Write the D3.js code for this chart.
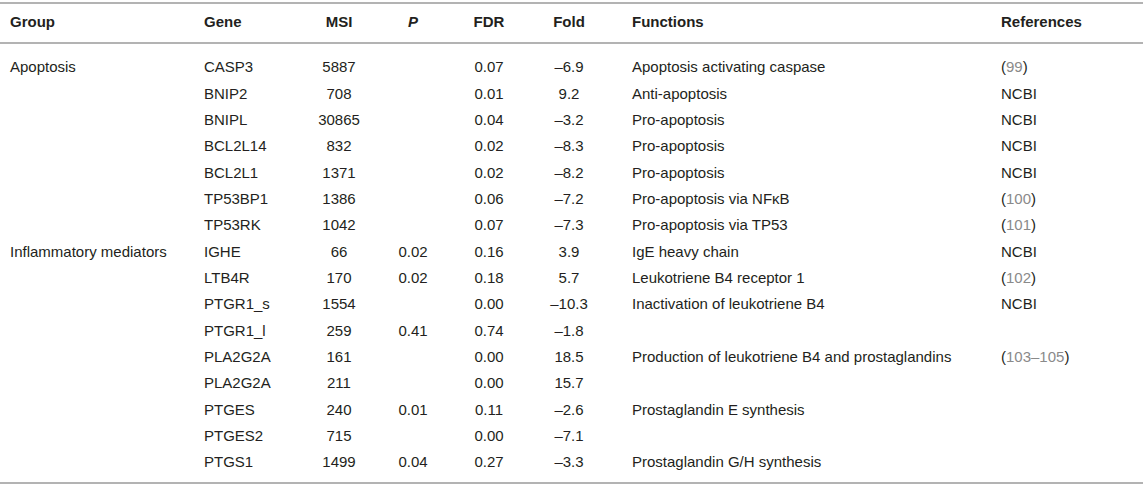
<html lang="en">
<head>
  <meta charset="utf-8" />
  <script src="https://d3js.org/d3.v7.min.js"></script>
  <style>
    body { margin: 0; background: #fff; }
    text { font-family: "Liberation Sans", Arial, sans-serif; font-size: 15px; fill: #231f20; }
    .hdr { font-weight: bold; fill: #231f20; }
  </style>
</head>
<body>
<script>
  // table data, one array per column
  var groups = ["Apoptosis", "", "", "", "", "", "", "Inflammatory mediators", "", "", "", "", "", "", "", ""];
  var genes = ["CASP3", "BNIP2", "BNIPL", "BCL2L14", "BCL2L1", "TP53BP1", "TP53RK", "IGHE", "LTB4R",
               "PTGR1_s", "PTGR1_l", "PLA2G2A", "PLA2G2A", "PTGES", "PTGES2", "PTGS1"];
  var msi = ["5887", "708", "30865", "832", "1371", "1386", "1042", "66", "170", "1554", "259", "161", "211", "240", "715", "1499"];
  var pVals = ["", "", "", "", "", "", "", "0.02", "0.02", "", "0.41", "", "", "0.01", "", "0.04"];
  var fdr = ["0.07", "0.01", "0.04", "0.02", "0.02", "0.06", "0.07", "0.16", "0.18", "0.00", "0.74", "0.00", "0.00", "0.11", "0.00", "0.27"];
  var fold = ["–6.9", "9.2", "–3.2", "–8.3", "–8.2", "–7.2", "–7.3", "3.9", "5.7", "–10.3", "–1.8", "18.5", "15.7", "–2.6", "–7.1", "–3.3"];
  var functions = ["Apoptosis activating caspase", "Anti-apoptosis", "Pro-apoptosis", "Pro-apoptosis", "Pro-apoptosis",
                   "Pro-apoptosis via NFκB", "Pro-apoptosis via TP53", "IgE heavy chain", "Leukotriene B4 receptor 1",
                   "Inactivation of leukotriene B4", "", "Production of leukotriene B4 and prostaglandins", "",
                   "Prostaglandin E synthesis", "", "Prostaglandin G/H synthesis"];
  // references: [prefix, gray number, suffix]
  var refs = [["(", "99", ")"], ["NCBI", "", ""], ["NCBI", "", ""], ["NCBI", "", ""], ["NCBI", "", ""],
              ["(", "100", ")"], ["(", "101", ")"], ["NCBI", "", ""], ["(", "102", ")"], ["NCBI", "", ""],
              ["", "", ""], ["(", "103–105", ")"], ["", "", ""], ["", "", ""], ["", "", ""], ["", "", ""]];
  var headers = ["Group", "Gene", "MSI", "P", "FDR", "Fold", "Functions", "References"];

  var width = 1143, height = 486;

  var svg = d3.select("body")
              .append("svg")
              .attr("width", width)
              .attr("height", height);

  // column layout
  var colX = [10, 204, 339, 413, 489, 569, 632, 1001];
  var colAnchor = ["start", "start", "middle", "middle", "middle", "middle", "start", "start"];

  var rowIdx = d3.range(genes.length);
  var y = d3.scaleLinear().domain([0, genes.length - 1]).range([67, 462]);

  // rules
  [3, 43, 483].forEach(function (ly) {
    svg.append("line")
      .attr("x1", 0).attr("x2", width)
      .attr("y1", ly).attr("y2", ly)
      .attr("stroke", "#b3b3b3")
      .attr("stroke-width", 2);
  });

  // header row
  svg.selectAll("text.hdr")
    .data(headers)
    .join("text")
    .attr("class", "hdr")
    .attr("x", function (d, i) { return colX[i]; })
    .attr("y", 22)
    .attr("dy", "0.35em")
    .attr("text-anchor", function (d, i) { return colAnchor[i]; })
    .style("font-style", function (d) { return d === "P" ? "italic" : "normal"; })
    .text(function (d) { return d; });

  var columns = [groups, genes, msi, pVals, fdr, fold, functions];

  columns.forEach(function (col, c) {
    svg.selectAll("text.c" + c)
      .data(rowIdx)
      .join("text")
      .attr("class", "c" + c)
      .attr("x", colX[c])
      .attr("y", function (i) { return y(i); })
      .attr("dy", "0.35em")
      .attr("text-anchor", colAnchor[c])
      .text(function (i) { return col[i]; });
  });

  // references column with gray citation numbers
  var refText = svg.selectAll("text.ref")
    .data(rowIdx)
    .join("text")
    .attr("class", "ref")
    .attr("x", colX[7])
    .attr("y", function (i) { return y(i); })
    .attr("dy", "0.35em");
  refText.append("tspan").text(function (i) { return refs[i][0]; });
  refText.append("tspan").style("fill", "#8a8a8a").text(function (i) { return refs[i][1]; });
  refText.append("tspan").text(function (i) { return refs[i][2]; });
</script>
</body>
</html>
